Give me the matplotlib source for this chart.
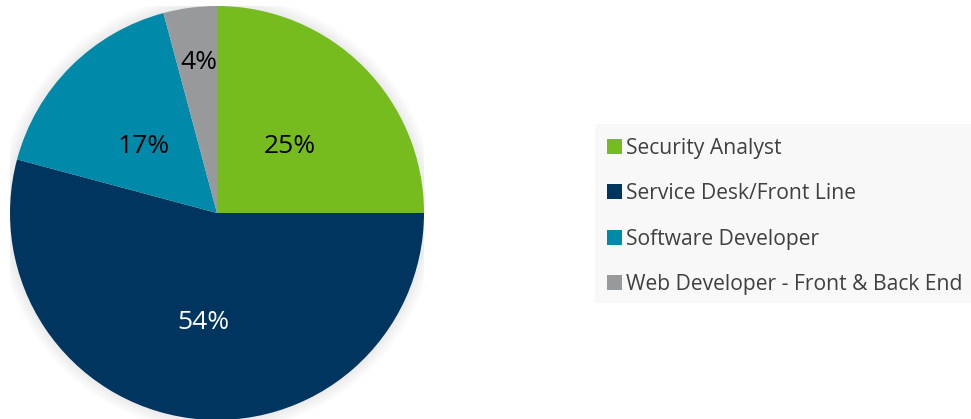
import matplotlib
matplotlib.use("Agg")
import matplotlib.pyplot as plt
from matplotlib.patches import Rectangle, Circle
import numpy as np

categories = ["Security Analyst", "Service Desk/Front Line", "Software Developer",
              "Web Developer - Front & Back End"]
values = [6, 13, 4, 1]
colors = ["#77bc1f", "#00355f", "#0089a8", "#97999b"]
label_colors = ["black", "white", "black", "black"]

plt.rcParams['font.family'] = ['Open Sans', 'DejaVu Sans']

W, H = 971, 419
fig = plt.figure(figsize=(W / 100, H / 100), dpi=100)
fig.patch.set_facecolor("white")

cx, cy, r = 217, 419 - 213, 207
ax = fig.add_axes([(cx - r) / W, (cy - r) / H, 2 * r / W, 2 * r / H])
ax.axis("off")

# soft shadow
for i in range(10, 0, -1):
    ax.add_patch(Circle((0, 0.0), 1 + i * 0.006, color="black", alpha=0.008, lw=0, zorder=0))

wedges, texts, autotexts = ax.pie(values, colors=colors, startangle=90, counterclock=False,
                                  autopct=lambda p: f"{p:.0f}%", pctdistance=0.5,
                                  radius=1, wedgeprops=dict(linewidth=0),
                                  textprops=dict(fontsize=19))
ax.set_xlim(-1, 1)
ax.set_ylim(-1, 1)
ax.set_aspect("equal")
for t, c in zip(autotexts, label_colors):
    t.set_color(c)
for t in autotexts[:3]:
    x, y = t.get_position()
    t.set_position((x, y - 0.034))
# move the small slice label outward
w = wedges[3]
mid = np.deg2rad((w.theta1 + w.theta2) / 2)
autotexts[3].set_position((0.74 * np.cos(mid) + 0.01, 0.74 * np.sin(mid) - 0.005))

# legend panel
fig.patches.append(Rectangle((595 / W, 1 - 303 / H), (W - 595) / W, (303 - 124) / H,
                             transform=fig.transFigure, facecolor="#f8f8f8",
                             edgecolor="none", zorder=0))
leg = fig.legend(wedges, categories, loc="upper left",
                 bbox_to_anchor=(607 / W, 1 - 138 / H), frameon=False,
                 fontsize=15.2, labelspacing=1.15, handlelength=0.7, handleheight=0.7,
                 handletextpad=0.22, borderpad=0, borderaxespad=0)
for t in leg.get_texts():
    t.set_color("#404040")

fig.savefig("out.png", dpi=100)
